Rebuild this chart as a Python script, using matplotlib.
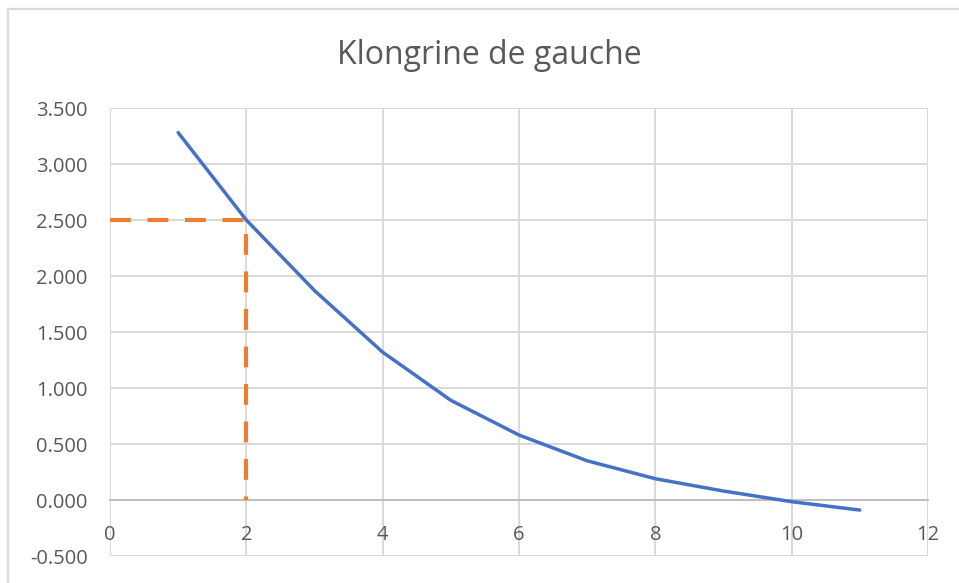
import matplotlib.pyplot as plt
from matplotlib.patches import Rectangle

plt.rcParams["font.family"] = ["Open Sans", "DejaVu Sans"]

# Data
x_vals = [1, 2, 3, 4, 5, 6, 7, 8, 9, 10, 11]
y_vals = [3.28, 2.50, 1.87, 1.32, 0.89, 0.58, 0.35, 0.19, 0.08, -0.015, -0.09]

# Orange dashed guide: from y axis to the curve at x=2, then down to zero
guide_x = [0, 2, 2]
guide_y = [2.5, 2.5, 0]

x_ticks = [0, 2, 4, 6, 8, 10, 12]
y_ticks = [-0.5, 0, 0.5, 1.0, 1.5, 2.0, 2.5, 3.0, 3.5]

text_color = "#595959"
grid_color = "#d9d9d9"

fig = plt.figure(figsize=(9.59, 5.83), dpi=100)

# Chart area frame (partly runs off the image on the right and bottom)
fig.patches.append(Rectangle((8 / 959, -0.05), 1.2, 1 - 9 / 583 + 0.05,
                             transform=fig.transFigure, fill=False,
                             edgecolor="#d9d9d9", linewidth=1.6))

ax = fig.add_axes([110 / 959, 27 / 583, 818 / 959, 448 / 583])

ax.plot(x_vals, y_vals, color="#4472c4", linewidth=2.5, solid_capstyle="round", zorder=3)
ax.plot(guide_x, guide_y, color="#ed7d31", linewidth=3, dashes=(5, 4), zorder=4)

ax.set_xlim(0, 12)
ax.set_ylim(-0.5, 3.5)
ax.set_xticks(x_ticks)
ax.set_yticks(y_ticks)
ax.set_xticklabels([str(t) for t in x_ticks])
ax.set_yticklabels([f"{t:.3f}" for t in y_ticks])

ax.grid(True, color=grid_color, linewidth=1.4, zorder=0)
ax.set_axisbelow(True)

for side in ["top", "right", "left"]:
    ax.spines[side].set_visible(False)
ax.spines["bottom"].set_position(("data", 0))
ax.spines["bottom"].set_color("#bfbfbf")
ax.spines["bottom"].set_linewidth(1.4)

ax.tick_params(axis="x", length=0, pad=18, labelsize=14.5, colors=text_color)
ax.tick_params(axis="y", length=0, pad=16, labelsize=14.5, colors=text_color)

fig.text(489 / 959, 1 - 55 / 583, "Klongrine de gauche", ha="center", va="center",
         fontsize=23, color=text_color)

plt.savefig("out.png", dpi=100)
